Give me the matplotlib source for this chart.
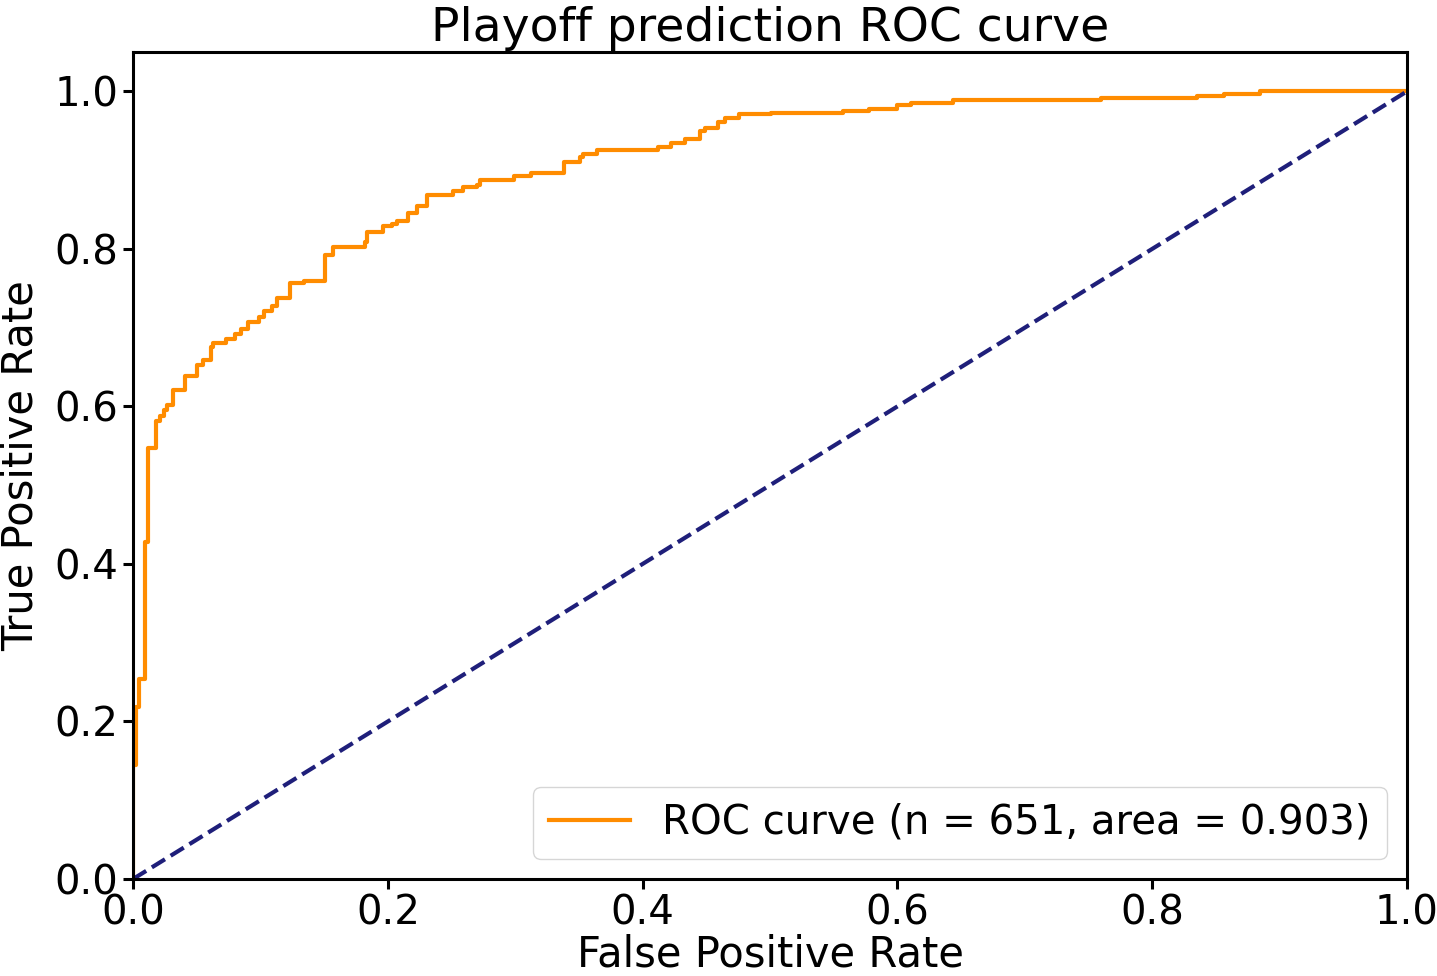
import matplotlib
matplotlib.use('Agg')
import matplotlib.pyplot as plt

# ROC vertices: false positive rate where tpr jumps, and tpr level after the jump
fpr = [0.0, 0.0, 0.002, 0.005, 0.009, 0.012, 0.018, 0.021, 0.024, 0.027, 0.031,
       0.041, 0.050, 0.055, 0.061, 0.063, 0.073, 0.080, 0.085, 0.090, 0.099,
       0.103, 0.109, 0.113, 0.123, 0.134, 0.151, 0.157, 0.182, 0.184, 0.196,
       0.203, 0.207, 0.216, 0.223, 0.231, 0.251, 0.259, 0.270, 0.272, 0.299,
       0.312, 0.338, 0.351, 0.353, 0.364, 0.412, 0.422, 0.433, 0.445, 0.449,
       0.459, 0.465, 0.476, 0.501, 0.557, 0.578, 0.600, 0.611, 0.644, 0.760,
       0.835, 0.856, 0.885, 1.0]
tpr = [0.0, 0.145, 0.219, 0.254, 0.428, 0.547, 0.582, 0.588, 0.596, 0.602, 0.621,
       0.639, 0.653, 0.659, 0.675, 0.680, 0.686, 0.692, 0.698, 0.707, 0.714,
       0.721, 0.727, 0.738, 0.757, 0.759, 0.792, 0.803, 0.809, 0.821, 0.829,
       0.832, 0.835, 0.846, 0.855, 0.869, 0.874, 0.878, 0.881, 0.887, 0.892,
       0.896, 0.910, 0.917, 0.920, 0.925, 0.930, 0.934, 0.940, 0.950, 0.954,
       0.961, 0.966, 0.971, 0.972, 0.975, 0.978, 0.983, 0.985, 0.989, 0.992,
       0.994, 0.997, 1.0, 1.0]
n_samples = 651
roc_auc = 0.903

fig = plt.figure(figsize=(14.37, 9.76), dpi=100)
ax = fig.add_axes([0.0926, 0.0994, 0.8865, 0.8473])

ax.plot(fpr, tpr, color='darkorange', lw=3, drawstyle='steps-post',
        label='ROC curve (n = %d, area = %0.3f)' % (n_samples, roc_auc))
ax.plot([0, 1], [0, 1], color='#1f1f7a', lw=3, linestyle='--')

ax.set_xlim([0.0, 1.0])
ax.set_ylim([0.0, 1.05])
ax.set_xlabel('False Positive Rate', fontsize=30, labelpad=0)
ax.set_ylabel('True Positive Rate', fontsize=30, labelpad=9)
ax.set_title('Playoff prediction ROC curve', fontsize=34, pad=8)
ax.tick_params(labelsize=29, width=2.2, length=7)
for s in ax.spines.values():
    s.set_linewidth(2.2)
ax.legend(loc='lower right', fontsize=29, borderaxespad=0.5)

fig.savefig('out.png', dpi=100)
